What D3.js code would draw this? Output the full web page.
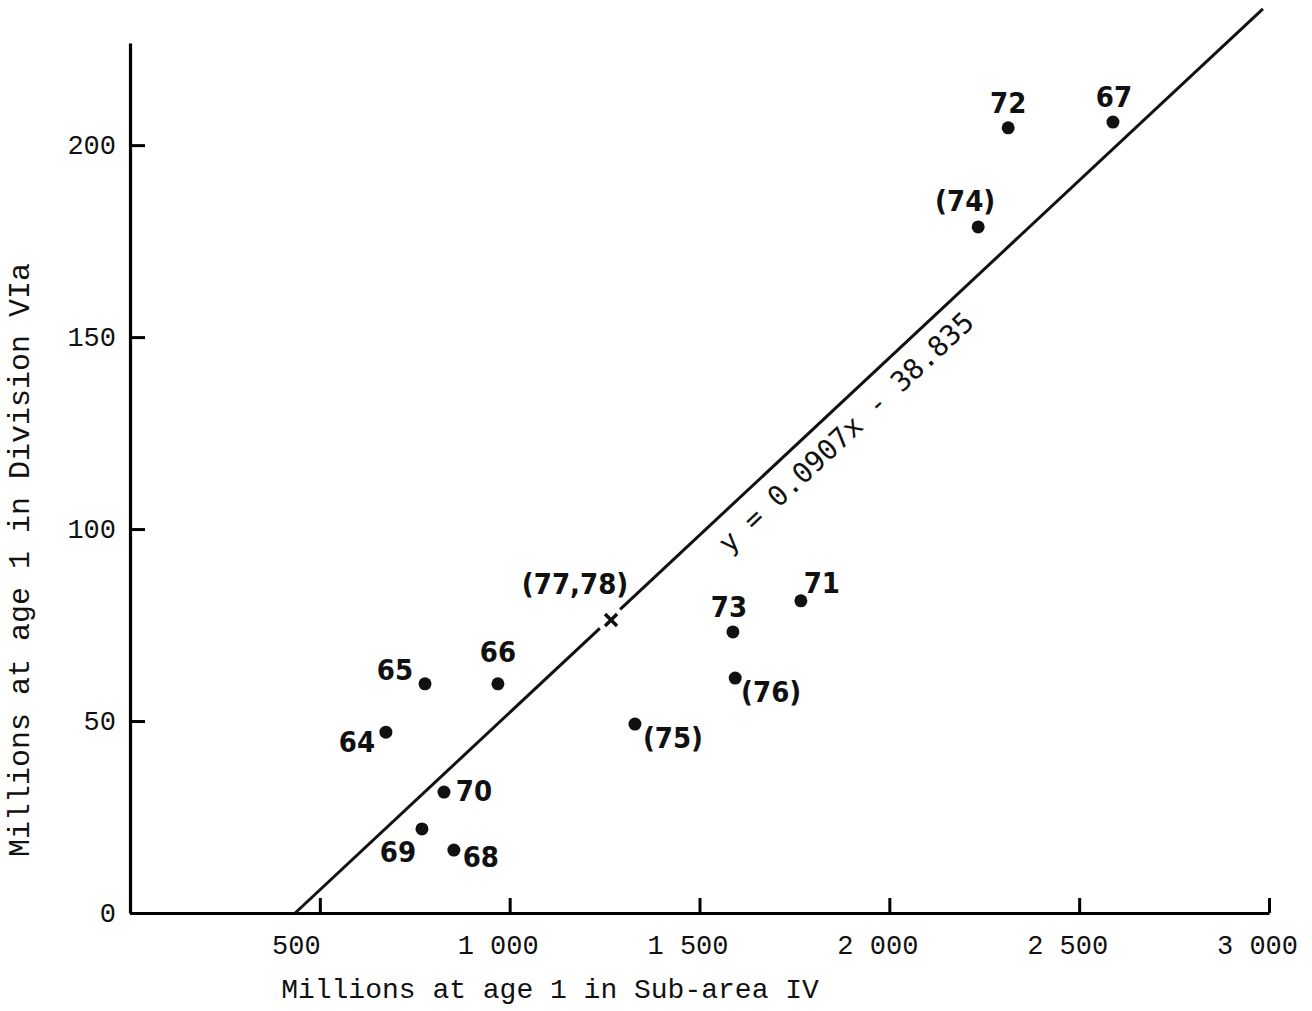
<!DOCTYPE html>
<html>
<head>
<meta charset="utf-8">
<script src="https://cdn.jsdelivr.net/npm/d3@7"></script>
<style>
  html, body { margin: 0; padding: 0; background: #fff; }
  svg { display: block; }
</style>
</head>
<body>
<svg id="chart" width="1312" height="1011"></svg>
<script>
// year-classes
const yearLabels = ['64', '65', '66', '67', '68', '69', '70', '71', '72', '73', '(74)', '(75)', '(76)']
const subAreaIV = [674, 777, 969, 2589, 853, 769, 827, 1767, 2313, 1588, 2234, 1330, 1594]
const divisionVIa = [47.1, 59.7, 59.7, 206.0, 16.4, 21.9, 31.5, 81.3, 204.5, 73.2, 178.7, 49.2, 61.2]

// predicted point for 1977-78
const predLabel = '(77,78)'
const predX = 1267
const predY = 76.3

// fitted line as drawn
const fitX = [435, 2984]
const fitY = [0, 235.5]
const fitText = 'y = 0.0907x - 38.835'

const xTicks = [500, 1000, 1500, 2000, 2500, 3000]
const yTicks = [0, 50, 100, 150, 200]
const xTitle = 'Millions at age 1 in Sub-area IV'
const yTitle = 'Millions at age 1 in Division VIa'

const mono = '"Liberation Mono", "Courier New", monospace'
const labelFont = '"DejaVu Sans Condensed", "DejaVu Sans", sans-serif'

const svg = d3.select('#chart')
svg.append('rect').attr('width', 1312).attr('height', 1011).attr('fill', '#fff')

const x = d3.scaleLinear().domain([0, 3000]).range([130, 1269])
const y = d3.scaleLinear().domain([0, 226.6]).range([913, 43])

const fmt = d3.formatLocale({ decimal: '.', thousands: ' ', grouping: [3], currency: ['', ''] }).format(',')

// axes
const xAxis = svg.append('g')
  .attr('transform', `translate(0,${y(0)})`)
  .call(d3.axisBottom(x).tickValues(xTicks).tickSize(-15).tickSizeOuter(0).tickPadding(22).tickFormat(fmt))
xAxis.select('.domain').attr('stroke-width', 3.2)
xAxis.selectAll('.tick line').attr('stroke-width', 3)
xAxis.selectAll('.tick text')
  .attr('font-family', mono).attr('font-size', 27).attr('fill', '#111')
  .attr('dx', d => d === 500 ? -24 : -12)

const yAxis = svg.append('g')
  .attr('transform', `translate(${x(0)},0)`)
  .call(d3.axisLeft(y).tickValues(yTicks).tickSize(-15).tickSizeOuter(0).tickPadding(14))
yAxis.select('.domain').attr('stroke-width', 3.2)
yAxis.selectAll('.tick line').attr('stroke-width', 3)
yAxis.selectAll('.tick text')
  .attr('font-family', mono).attr('font-size', 27).attr('fill', '#111')

svg.append('text')
  .attr('x', 550).attr('y', 990)
  .attr('text-anchor', 'middle').attr('dominant-baseline', 'central')
  .attr('font-family', mono).attr('font-size', 28).attr('fill', '#111')
  .text(xTitle)

svg.append('text')
  .attr('transform', 'translate(21,560) rotate(-90)')
  .attr('text-anchor', 'middle').attr('dominant-baseline', 'central')
  .attr('font-family', mono).attr('font-size', 30).attr('fill', '#111')
  .text(yTitle)

// fitted line
svg.append('line')
  .attr('x1', x(fitX[0])).attr('y1', y(fitY[0]))
  .attr('x2', x(fitX[1])).attr('y2', y(fitY[1]))
  .attr('stroke', '#111').attr('stroke-width', 3)

// equation along the line
const ang = Math.atan2(y(fitY[1]) - y(fitY[0]), x(fitX[1]) - x(fitX[0]))
const t = (1841 - fitX[0]) / (fitX[1] - fitX[0])
const ex = x(fitX[0]) + t * (x(fitX[1]) - x(fitX[0]))
const ey = y(fitY[0]) + t * (y(fitY[1]) - y(fitY[0]))
svg.append('text')
  .attr('transform', `translate(${ex},${ey}) rotate(${ang * 180 / Math.PI})`)
  .attr('y', 25)
  .attr('text-anchor', 'middle').attr('dominant-baseline', 'central')
  .attr('font-family', '"DejaVu Sans Mono", monospace').attr('font-size', 28)
  .attr('font-weight', 300).attr('fill', '#111')
  .text(fitText)

// points
const pts = yearLabels.map((l, i) => ({ label: l, x: subAreaIV[i], y: divisionVIa[i] }))

svg.append('g').selectAll('circle').data(pts).join('circle')
  .attr('cx', d => x(d.x)).attr('cy', d => y(d.y)).attr('r', 6.5)
  .attr('fill', '#111')

// label offsets (px) from each point
const nudge = {
  '64': [-29, 10], '65': [-30, -14], '66': [0, -32], '67': [1, -25],
  '68': [27, 7], '69': [-24, 23], '70': [30, -1], '71': [21, -18],
  '72': [0, -25], '73': [-4, -25], '(74)': [-13, -26], '(75)': [38, 14], '(76)': [36, 14]
}

svg.append('g').selectAll('text').data(pts).join('text')
  .attr('x', d => x(d.x) + nudge[d.label][0])
  .attr('y', d => y(d.y) + nudge[d.label][1])
  .attr('text-anchor', 'middle').attr('dominant-baseline', 'central')
  .attr('font-family', labelFont).attr('font-weight', 'bold').attr('font-size', 29)
  .attr('fill', '#111')
  .text(d => d.label)

// predicted cross, with gap in the line
const cx = x(predX), cy = y(predY)
svg.append('circle').attr('cx', cx).attr('cy', cy).attr('r', 14).attr('fill', '#fff')
svg.append('path')
  .attr('d', `M${cx - 6},${cy - 6}L${cx + 6},${cy + 6}M${cx - 6},${cy + 6}L${cx + 6},${cy - 6}`)
  .attr('stroke', '#111').attr('stroke-width', 3.5)
svg.append('text')
  .attr('x', cx - 36).attr('y', cy - 36)
  .attr('text-anchor', 'middle').attr('dominant-baseline', 'central')
  .attr('font-family', labelFont).attr('font-weight', 'bold').attr('font-size', 29)
  .attr('fill', '#111')
  .text(predLabel)
</script>
</body>
</html>
